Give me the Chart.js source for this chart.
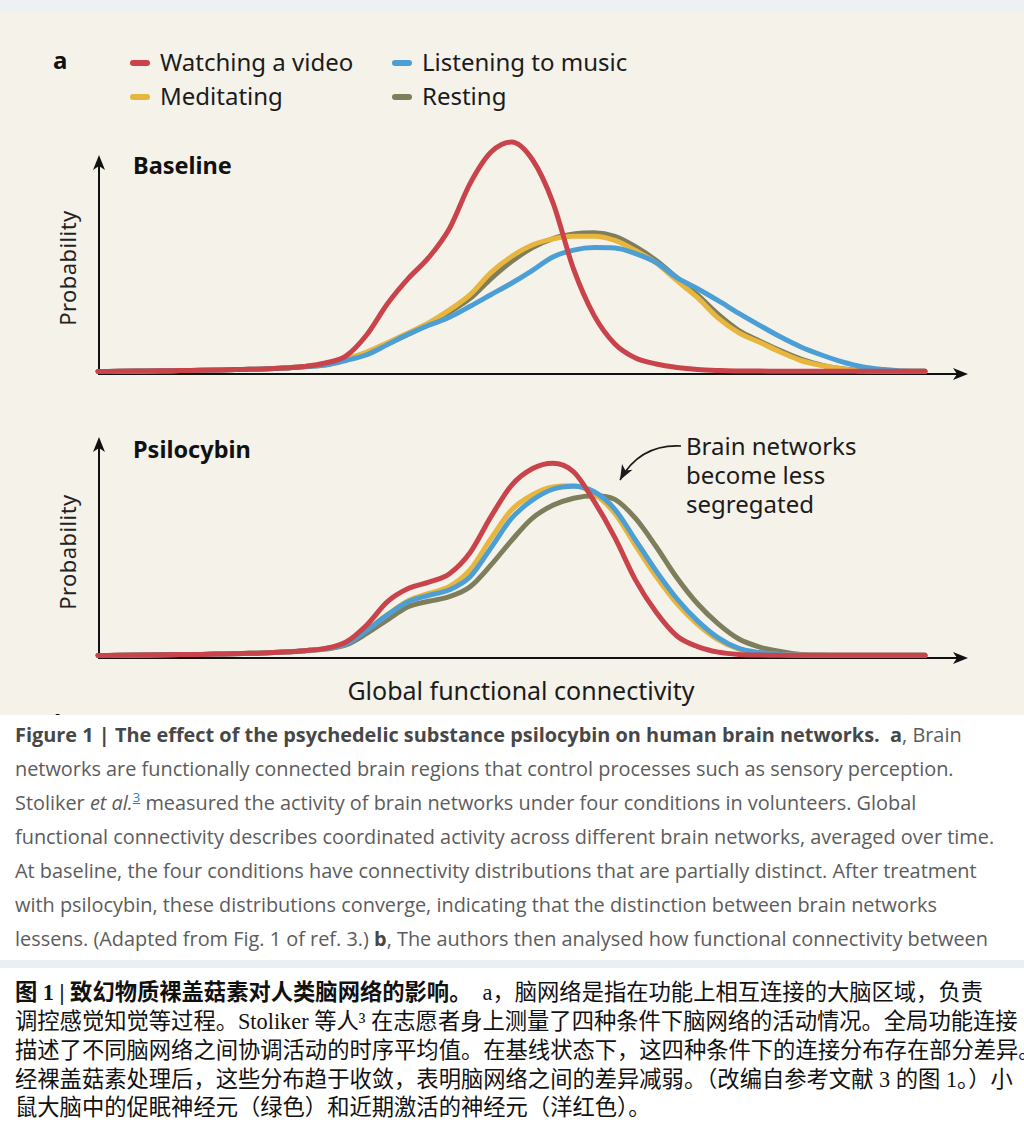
<!DOCTYPE html>
<html>
<head>
<meta charset="utf-8">
<script src="https://cdn.jsdelivr.net/npm/chart.js@4.4.1/dist/chart.umd.min.js"></script>
<style>
  body { margin:0; width:1024px; height:1146px; background:#fff; position:relative; overflow:hidden; font-family:"Noto Sans", sans-serif; }
  .abs { position:absolute; white-space:nowrap; }
  #panel { left:0; top:0; width:1024px; height:715px; background:#f5f2ea; overflow:hidden; }
  #topband { left:0; top:0; width:1024px; height:12px; background:#edf1f4; }
  #midband { left:0; top:960px; width:1024px; height:8px; background:#e9eff3; }
  .lbl { color:#1b1b1b; font-size:24px; line-height:30px; }
  .bold { font-weight:700; color:#111; font-size:23.5px; line-height:30px; }
  .ylab { color:#222; font-size:22px; line-height:26px; letter-spacing:0.4px; transform:translate(-50%,-50%) rotate(-90deg); }
  .sw { position:absolute; width:20px; height:6px; border-radius:3px; }
  .en { font-family:"Open Sans", sans-serif; font-size:19.9px; color:#5c5c5c; line-height:24px; left:15px; }
  .en b { color:#474747; }
  .en sup { color:#2a7ab8; text-decoration:underline; font-size:13px; line-height:0; }
  .zh { font-family:"Liberation Serif", "Noto Sans CJK SC", serif; font-size:22.3px; color:#111; line-height:28px; left:15px; }
</style>
</head>
<body>
<div id="panel" class="abs">
  <div class="abs bold" style="left:53px; top:45px; font-size:24px;">a</div>
  <div id="legend"></div>
  <div class="abs bold" style="left:133px; top:150px;">Baseline</div>
  <div class="abs bold" style="left:133px; top:434px;">Psilocybin</div>
  <div class="abs ylab" style="left:67px; top:268px;">Probability</div>
  <div class="abs ylab" style="left:67px; top:552px;">Probability</div>
  <div class="abs lbl" style="left:686px; top:431px; line-height:29px;">Brain networks<br>become less<br>segregated</div>
  <div class="abs lbl" style="left:521px; top:675px; font-size:25px; transform:translateX(-50%);">Global functional connectivity</div>
  <div class="abs bold" style="left:54px; top:708px; font-size:24px;">b</div>
  <canvas id="baseChart" class="abs" width="1024" height="270" style="left:0; top:130px;"></canvas>
  <canvas id="psiChart" class="abs" width="1024" height="270" style="left:0; top:414px;"></canvas>
</div>
<div id="topband" class="abs"></div>

<div class="abs en" style="top:723px;"><b>Figure 1 | The effect of the psychedelic substance psilocybin on human brain networks.</b>&nbsp; <b>a</b>, Brain</div>
<div class="abs en" style="top:757px;">networks are functionally connected brain regions that control processes such as sensory perception.</div>
<div class="abs en" style="top:791px;">Stoliker <i>et al.</i><sup>3</sup> measured the activity of brain networks under four conditions in volunteers. Global</div>
<div class="abs en" style="top:825px;">functional connectivity describes coordinated activity across different brain networks, averaged over time.</div>
<div class="abs en" style="top:859px;">At baseline, the four conditions have connectivity distributions that are partially distinct. After treatment</div>
<div class="abs en" style="top:893px;">with psilocybin, these distributions converge, indicating that the distinction between brain networks</div>
<div class="abs en" style="top:927px;">lessens. (Adapted from Fig. 1 of ref. 3.) <b>b</b>, The authors then analysed how functional connectivity between</div>
<div id="midband" class="abs"></div>

<div class="abs zh" style="top:979px;"><b>图 1 | 致幻物质裸盖菇素对人类脑网络的影响。</b>&nbsp; a，脑网络是指在功能上相互连接的大脑区域，负责</div>
<div class="abs zh" style="top:1008px;">调控感觉知觉等过程。Stoliker 等人³ 在志愿者身上测量了四种条件下脑网络的活动情况。全局功能连接</div>
<div class="abs zh" style="top:1037px;">描述了不同脑网络之间协调活动的时序平均值。在基线状态下，这四种条件下的连接分布存在部分差异。</div>
<div class="abs zh" style="top:1066px;">经裸盖菇素处理后，这些分布趋于收敛，表明脑网络之间的差异减弱。（改编自参考文献 3 的图 1。）小</div>
<div class="abs zh" style="top:1094px;">鼠大脑中的促眠神经元（绿色）和近期激活的神经元（洋红色）。</div>

<script>
// global functional connectivity (arbitrary units, 0..100)
var connectivity = [0, 2.5, 5, 7.5, 10, 12.5, 15, 17.5, 20, 22.5, 25, 27.5, 30, 32.5, 35, 37.5, 40,
  42.5, 45, 47.5, 50, 52.5, 55, 57.5, 60, 62.5, 65, 67.5, 70, 72.5, 75, 77.5, 80, 82.5, 85, 87.5,
  90, 92.5, 95, 97.5, 100];

var seriesNames = ["Watching a video", "Listening to music", "Meditating", "Resting"];
var seriesColors = ["#c9434b", "#4c9fd5", "#e8b53d", "#7e7d5c"];

// baseline probability (arbitrary units)
var baseVideo = [0.2, 0.3, 0.4, 0.5, 0.65, 0.75, 0.9, 1.1, 1.3, 1.7, 2.4, 3.9, 7, 16.2, 29.7, 40.6, 49.8,
  62.4, 82, 95.5, 100, 92.5, 73.8, 44.8, 24.5, 12.2, 6.1, 3.5, 2, 1.1, 0.65, 0.4, 0.4, 0.35, 0.35, 0.3,
  0.3, 0.3, 0.3, 0.3, 0.3];
var baseMusic = [0.2, 0.3, 0.4, 0.5, 0.65, 0.75, 0.9, 1.1, 1.3, 1.7, 2.3, 3, 5, 7.5, 11.9, 16.4, 20.3,
  23.8, 28.6, 33.6, 38.6, 44.1, 50, 53, 54.1, 53.9, 51.5, 47.6, 41, 36.2, 31, 25.5, 20.3, 15.3, 10.9, 7.4,
  4.4, 2.2, 1.1, 0.4, 0.3];
var baseMeditating = [0.2, 0.3, 0.4, 0.5, 0.65, 0.75, 0.9, 1.1, 1.3, 1.7, 2.4, 3.1, 5.7, 8.7, 12.7, 17, 21.4,
  27, 33.6, 43.2, 50.2, 55.2, 57.9, 59, 59, 57.2, 52.8, 47.4, 39.7, 32.3, 23.4, 17, 12.9, 8.7, 5, 2.8,
  1.3, 0.4, 0.3, 0.3, 0.3];
var baseResting = [0.2, 0.3, 0.4, 0.5, 0.65, 0.75, 0.9, 1.1, 1.3, 1.7, 2.4, 3.1, 5.5, 8.4, 12.2, 16.4, 20.7,
  26, 32, 40.5, 48, 54, 58, 60, 60.5, 59, 54.5, 48.5, 41, 33.5, 25, 18, 13.5, 9.3, 5.6, 3,
  1.4, 0.5, 0.3, 0.3, 0.3];

// psilocybin probability (arbitrary units)
var psiVideo = [0.2, 0.3, 0.4, 0.5, 0.6, 0.7, 0.9, 1.1, 1.3, 1.7, 2.3, 3.3, 6.1, 13.5, 23.6, 29.3, 32.1,
  35.8, 45, 60.5, 74.2, 81.4, 83.8, 80.1, 67.2, 51.5, 33, 19, 8.7, 4.1, 1.7, 0.7, 0.4, 0.3, 0.3, 0.3,
  0.3, 0.3, 0.3, 0.3, 0.3];
var psiMusic = [0.2, 0.3, 0.4, 0.5, 0.6, 0.7, 0.9, 1.1, 1.3, 1.7, 2.3, 3.2, 5.2, 11.1, 17.9, 23.6, 26.4,
  28.8, 34.5, 46.9, 59.8, 67.7, 72.5, 73.8, 71.4, 63.8, 50.4, 36.9, 24.9, 15.3, 7.9, 3.3, 1.5, 0.7, 0.4, 0.3,
  0.3, 0.3, 0.3, 0.3, 0.3];
var psiMeditating = [0.2, 0.3, 0.4, 0.5, 0.6, 0.7, 0.9, 1.1, 1.3, 1.7, 2.3, 3.2, 5.3, 11.5, 18, 24, 27.2,
  30.2, 37.5, 51, 63.5, 70, 73.5, 74, 70.5, 62, 48, 34.5, 22.8, 13.8, 7, 3, 1.3, 0.6, 0.4, 0.3,
  0.3, 0.3, 0.3, 0.3, 0.3];
var psiResting = [0.2, 0.3, 0.4, 0.5, 0.6, 0.7, 0.9, 1.1, 1.3, 1.7, 2.3, 3, 4.8, 9.8, 15.7, 21.4, 23.8,
  25.8, 30.1, 39.5, 50.2, 59.8, 65.5, 68.6, 69.7, 68.1, 59.8, 47.5, 34, 22.7, 14, 7.4, 3.9, 2, 0.7, 0.4,
  0.3, 0.3, 0.3, 0.3, 0.3];

// legend
var legend = document.getElementById("legend");
for (var i = 0; i < seriesNames.length; i++) {
  var left = 130 + (i % 2) * 262, mid = 63 + Math.floor(i / 2) * 34;
  var sw = document.createElement("div");
  sw.className = "sw";
  sw.style.left = left + "px"; sw.style.top = (mid - 3) + "px"; sw.style.background = seriesColors[i];
  legend.appendChild(sw);
  var t = document.createElement("div");
  t.className = "abs lbl";
  t.style.left = (left + 30) + "px"; t.style.top = (mid - 16) + "px";
  t.textContent = seriesNames[i];
  legend.appendChild(t);
}

// black axes with arrow heads
function arrowHead(ctx, x, y, ang) {
  ctx.save();
  ctx.translate(x, y); ctx.rotate(ang);
  ctx.beginPath();
  ctx.moveTo(0, 0); ctx.lineTo(-15, -6); ctx.lineTo(-11, 0); ctx.lineTo(-15, 6);
  ctx.closePath(); ctx.fill();
  ctx.restore();
}

var axesPlugin = {
  id: "arrowAxes",
  beforeDatasetsDraw: function(chart, args, opts) {
    var ctx = chart.ctx, a = chart.chartArea;
    var x0 = a.left + 1, y0 = chart.scales.y.getPixelForValue(0) + 2;
    ctx.save();
    ctx.strokeStyle = "#111"; ctx.fillStyle = "#111"; ctx.lineWidth = 2;
    ctx.beginPath(); ctx.moveTo(x0, y0); ctx.lineTo(x0, opts.tipY + 10); ctx.stroke();
    arrowHead(ctx, x0, opts.tipY, -Math.PI / 2);
    ctx.beginPath(); ctx.moveTo(x0 - 1, y0); ctx.lineTo(opts.tipX - 10, y0); ctx.stroke();
    arrowHead(ctx, opts.tipX, y0, 0);
    ctx.restore();
  },
  afterDraw: function(chart, args, opts) {
    if (!opts.note) return;
    var ctx = chart.ctx, n = opts.note;
    ctx.save();
    ctx.strokeStyle = "#1a1a1a"; ctx.fillStyle = "#1a1a1a"; ctx.lineWidth = 1.6;
    ctx.beginPath(); ctx.moveTo(n[0], n[1]); ctx.quadraticCurveTo(n[2], n[3], n[4], n[5]); ctx.stroke();
    arrowHead(ctx, n[4], n[5], Math.atan2(n[5] - n[3], n[4] - n[2]));
    ctx.restore();
  }
};

function makeChart(id, values, opts) {
  var sets = [];
  for (var i = 0; i < values.length; i++) {
    var pts = [];
    for (var j = 0; j < connectivity.length; j++) pts.push({ x: connectivity[j], y: values[i][j] });
    sets.push({
      label: seriesNames[i], data: pts, borderColor: seriesColors[i], borderWidth: 5,
      pointRadius: 0, cubicInterpolationMode: "monotone", fill: false, clip: false, borderCapStyle: "round"
    });
  }
  return new Chart(document.getElementById(id).getContext("2d"), {
    type: "line",
    data: { datasets: sets },
    options: {
      responsive: false, animation: false, events: [],
      layout: { padding: { left: 98, right: 99, top: 12, bottom: 28 } },
      scales: {
        x: { type: "linear", min: 0, max: 100, display: false },
        y: { min: 0, max: 100, display: false }
      },
      plugins: { legend: { display: false }, tooltip: { enabled: false }, arrowAxes: opts }
    },
    plugins: [axesPlugin]
  });
}

makeChart("baseChart", [baseVideo, baseMusic, baseMeditating, baseResting], { tipY: 25, tipX: 968 });
makeChart("psiChart", [psiVideo, psiMusic, psiMeditating, psiResting],
  { tipY: 23, tipX: 968, note: [681, 32, 640, 30, 620, 66] });
</script>
</body>
</html>
